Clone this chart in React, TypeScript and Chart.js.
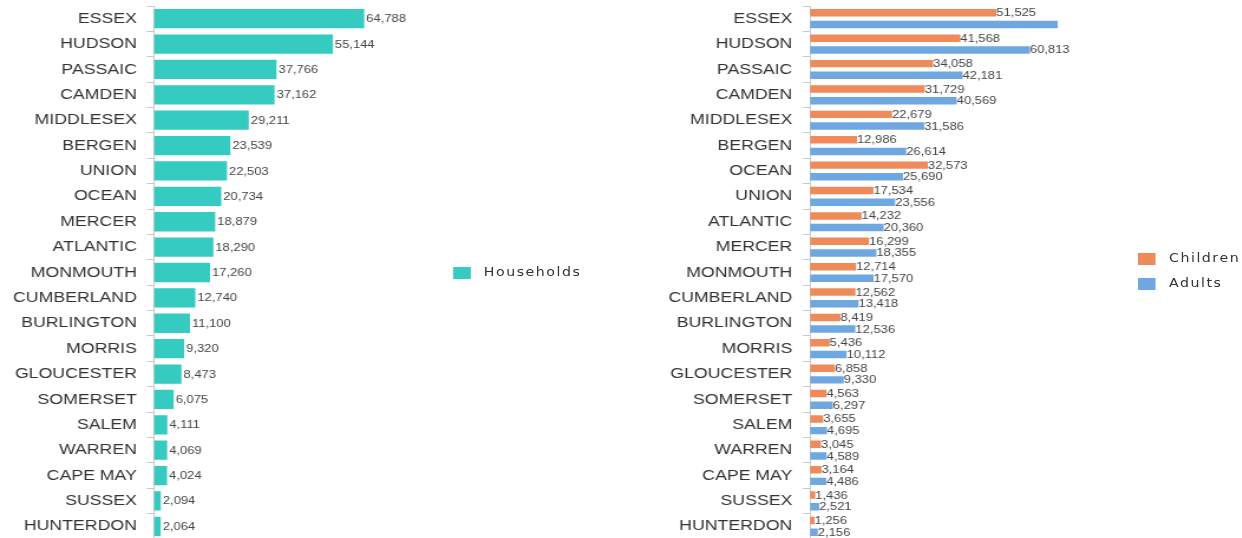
import React, { useEffect, useRef } from 'react';
import { Chart, registerables } from 'chart.js';

Chart.register(...registerables);

// ---------- data ----------
const householdCounties = [
  'ESSEX', 'HUDSON', 'PASSAIC', 'CAMDEN', 'MIDDLESEX', 'BERGEN', 'UNION', 'OCEAN', 'MERCER', 'ATLANTIC',
  'MONMOUTH', 'CUMBERLAND', 'BURLINGTON', 'MORRIS', 'GLOUCESTER', 'SOMERSET', 'SALEM', 'WARREN', 'CAPE MAY',
  'SUSSEX', 'HUNTERDON',
];
const householdValues = [
  64788, 55144, 37766, 37162, 29211, 23539, 22503, 20734, 18879, 18290,
  17260, 12740, 11100, 9320, 8473, 6075, 4111, 4069, 4024, 2094, 2064,
];

const personCounties = [
  'ESSEX', 'HUDSON', 'PASSAIC', 'CAMDEN', 'MIDDLESEX', 'BERGEN', 'OCEAN', 'UNION', 'ATLANTIC', 'MERCER',
  'MONMOUTH', 'CUMBERLAND', 'BURLINGTON', 'MORRIS', 'GLOUCESTER', 'SOMERSET', 'SALEM', 'WARREN', 'CAPE MAY',
  'SUSSEX', 'HUNTERDON',
];
const childrenValues = [
  51525, 41568, 34058, 31729, 22679, 12986, 32573, 17534, 14232, 16299,
  12714, 12562, 8419, 5436, 6858, 4563, 3655, 3045, 3164, 1436, 1256,
];
const adultValues = [
  68500, 60813, 42181, 40569, 31586, 26614, 25690, 23556, 20360, 18355,
  17570, 13418, 12536, 10112, 9330, 6297, 4695, 4589, 4486, 2521, 2156,
];

const householdsLabel = 'Households';
const childrenLabel = 'Children';
const adultsLabel = 'Adults';
const xAxisMax = 90000;
// value label not shown in the original (Essex adults)
const hiddenPersonLabels = [{ dataset: 1, index: 0 }];

// ---------- styling ----------
const SX = 1.18; // horizontal stretch of each panel
const PANEL_W = 526;
const PANEL_H = 539;
const TEAL = '#35CBC1';
const ORANGE = '#EF8A5A';
const BLUE = '#6FA8E0';
const LABEL_FONT = '"Liberation Sans", Arial, sans-serif';

const valueLabelPlugin = {
  id: 'valueLabels',
  afterDatasetsDraw(chart: any, _args: any, opts: any) {
    const ctx = chart.ctx;
    const hidden = (opts && opts.hidden) || [];
    const gap = (opts && opts.gap) || 0;
    ctx.save();
    ctx.font = `11px ${LABEL_FONT}`;
    ctx.fillStyle = '#454545';
    ctx.textBaseline = 'middle';
    ctx.textAlign = 'left';
    chart.data.datasets.forEach((ds: any, di: number) => {
      const meta = chart.getDatasetMeta(di);
      meta.data.forEach((bar: any, i: number) => {
        if (hidden.some((h: any) => h.dataset === di && h.index === i)) return;
        const v = ds.data[i];
        ctx.fillText(Number(v).toLocaleString('en-US'), bar.x + gap, bar.y + 0.5);
      });
    });
    ctx.restore();
  },
};

type PanelProps = {
  labels: string[];
  datasets: any[];
  axisWidth: number;
  padRight: number;
  tickPadding: number;
  categoryPercentage: number;
  barPercentage: number;
  gap: number;
  hidden: any[];
};

function BarPanel(p: PanelProps) {
  const ref = useRef<HTMLCanvasElement | null>(null);
  useEffect(() => {
    if (!ref.current) return;
    const chart = new Chart(ref.current, {
      type: 'bar',
      data: {
        labels: p.labels,
        datasets: p.datasets.map((d) => ({
          ...d,
          borderWidth: 0,
          categoryPercentage: p.categoryPercentage,
          barPercentage: p.barPercentage,
        })),
      },
      options: {
        indexAxis: 'y',
        animation: false,
        responsive: true,
        maintainAspectRatio: false,
        layout: { padding: { top: 6, bottom: 0, left: 0, right: p.padRight } },
        plugins: {
          legend: { display: false },
          tooltip: { enabled: false },
          valueLabels: { gap: p.gap, hidden: p.hidden },
        } as any,
        scales: {
          x: { display: false, min: 0, max: xAxisMax },
          y: {
            afterFit: (scale: any) => {
              scale.width = p.axisWidth;
              scale.paddingTop = 0;
              scale.paddingBottom = 0;
            },
            grid: {
              offset: true,
              drawOnChartArea: false,
              drawTicks: true,
              tickLength: 6,
              color: '#c8c8c8',
            },
            border: { display: true, color: '#c8c8c8' },
            ticks: {
              padding: p.tickPadding,
              color: '#333',
              font: { family: LABEL_FONT, size: 15 },
              autoSkip: false,
            },
          },
        },
      },
      plugins: [valueLabelPlugin],
    } as any);
    return () => chart.destroy();
  }, []);
  return <canvas ref={ref} />;
}

function LegendItem({ color, text, left, top }: { color: string; text: string; left: number; top: number }) {
  return (
    <>
      <div
        style={{ position: 'absolute', left, top, width: 14.5, height: 12, background: color }}
      />
      <div
        style={{
          position: 'absolute',
          left: left + 26,
          top: top - 1.5,
          font: '12px "DejaVu Sans", Verdana, sans-serif',
          lineHeight: '12px',
          letterSpacing: '1.3px',
          color: '#333',
          whiteSpace: 'nowrap',
        }}
      >
        {text}
      </div>
    </>
  );
}

const panelStyle = (left: number): React.CSSProperties => ({
  position: 'absolute',
  left,
  top: 0,
  width: PANEL_W,
  height: PANEL_H,
  transform: `scaleX(${SX})`,
  transformOrigin: '0 0',
});

export default function App() {
  return (
    <div
      style={{
        position: 'fixed',
        left: 0,
        top: 0,
        width: 1242,
        height: 538,
        overflow: 'hidden',
        background: '#fff',
      }}
    >
      <div style={panelStyle(0)}>
        <div style={{ position: 'absolute', left: 0, top: 0, width: PANEL_W, height: PANEL_H }}>
          <BarPanel
            labels={householdCounties}
            datasets={[{ label: householdsLabel, data: householdValues, backgroundColor: TEAL }]}
            axisWidth={130.5}
            padRight={148}
            tickPadding={8.5}
            categoryPercentage={1}
            barPercentage={0.76}
            gap={1.7}
            hidden={[]}
          />
        </div>
        <LegendItem color={TEAL} text={householdsLabel} left={384} top={267} />
      </div>
      <div style={panelStyle(621)}>
        <div style={{ position: 'absolute', left: 0, top: 0, width: PANEL_W, height: PANEL_H }}>
          <BarPanel
            labels={personCounties}
            datasets={[
              { label: childrenLabel, data: childrenValues, backgroundColor: ORANGE },
              { label: adultsLabel, data: adultValues, backgroundColor: BLUE },
            ]}
            axisWidth={160.2}
            padRight={90}
            tickPadding={9}
            categoryPercentage={0.92}
            barPercentage={0.64}
            gap={0}
            hidden={hiddenPersonLabels}
          />
        </div>
        <LegendItem color={ORANGE} text={childrenLabel} left={438.4} top={253} />
        <LegendItem color={BLUE} text={adultsLabel} left={438.4} top={278} />
      </div>
    </div>
  );
}
